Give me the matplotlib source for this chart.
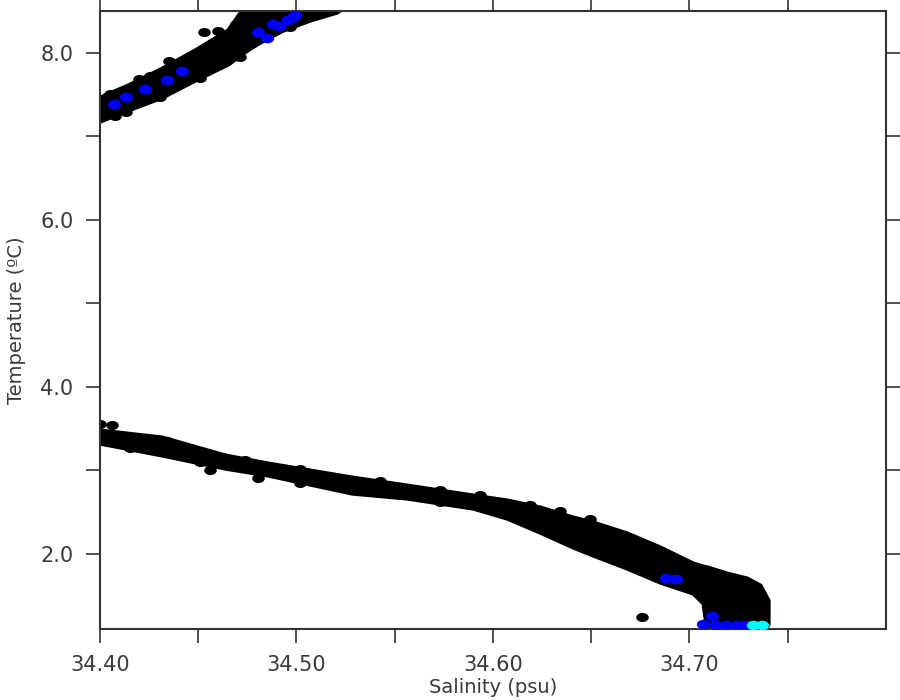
import numpy as np
import matplotlib
matplotlib.use("Agg")
import matplotlib.pyplot as plt
from matplotlib.path import Path
from matplotlib.transforms import Affine2D

# dense upper (warm) branch: salinity, upper / lower temperature edge
upper_S = [34.4000, 34.4142, 34.4316, 34.4483, 34.4651, 34.4748,
           34.4814, 34.4931, 34.5069, 34.5206, 34.5270]
upper_Ttop = [7.470, 7.613, 7.817, 8.033, 8.272, 8.60,
              8.60, 8.60, 8.60, 8.60, 8.60]
upper_Tbot = [7.183, 7.315, 7.470, 7.673, 7.865, 8.032,
              8.128, 8.272, 8.392, 8.488, 8.60]

# dense lower (deep) branch
lower_S = [34.4000, 34.4316, 34.4636, 34.4855, 34.5282, 34.5562, 34.5898,
           34.6071, 34.6239, 34.6407, 34.6509, 34.6682, 34.6850, 34.7018,
           34.7069, 34.7094, 34.7191, 34.7293, 34.7359, 34.7400]
lower_Ttop = [3.482, 3.398, 3.183, 3.087, 2.919, 2.823, 2.704,
              2.644, 2.560, 2.440, 2.380, 2.249, 2.081, 1.889,
              1.853, 1.840, 1.769, 1.709, 1.625, 1.446]
lower_Tbot = [3.326, 3.183, 3.027, 2.943, 2.728, 2.668, 2.548,
              2.428, 2.260, 2.081, 1.985, 1.829, 1.662, 1.530,
              1.410, 1.000, 1.000, 1.000, 1.000, 1.160]

# black samples on the rough edges of the bands and a few strays
black_S = [34.4529, 34.4601, 34.4692, 34.4351, 34.4198, 34.4132,
           34.4051, 34.4254, 34.4407, 34.4585, 34.4076, 34.4305,
           34.4509, 34.4712, 34.4967,
           34.4061, 34.4000, 34.4341, 34.4560, 34.4626, 34.4804,
           34.4127, 34.4254, 34.4458, 34.4738, 34.5018, 34.5425,
           34.5730, 34.5934, 34.6188, 34.6341, 34.6494,
           34.4153, 34.4509, 34.5018, 34.5730,
           34.6758]
black_T = [8.249, 8.260, 8.344, 7.901, 7.686, 7.290,
           7.510, 7.720, 7.870, 8.080, 7.240, 7.470,
           7.700, 7.950, 8.310,
           3.542, 3.554, 3.350, 3.003, 3.159, 2.907,
           3.410, 3.370, 3.270, 3.125, 3.020, 2.875,
           2.770, 2.700, 2.590, 2.515, 2.420,
           3.270, 3.095, 2.845, 2.615,
           1.243]

# blue samples
blue_S = [34.4071, 34.4132, 34.4229, 34.4341, 34.4417,
          34.4804, 34.4850, 34.4880, 34.4911, 34.4957, 34.4982, 34.4992,
          34.6880, 34.6931,
          34.7069, 34.7115, 34.7135, 34.7186, 34.7237, 34.7282]
blue_T = [7.386, 7.470, 7.566, 7.674, 7.781,
          8.249, 8.177, 8.344, 8.320, 8.392, 8.428, 8.452,
          1.710, 1.698,
          1.160, 1.255, 1.150, 1.150, 1.150, 1.150]

# cyan samples
cyan_S = [34.7323, 34.7369]
cyan_T = [1.150, 1.150]

x_major = [34.40, 34.50, 34.60, 34.70]
x_minor = [34.45, 34.55, 34.65, 34.75]
y_major = [2.0, 4.0, 6.0, 8.0]
y_minor = [3.0, 5.0, 7.0]

# dots in the original are slightly flattened
dot = Path.unit_circle().transformed(Affine2D().scale(1.0, 0.72))

fig = plt.figure(figsize=(9, 7), dpi=100)
ax = fig.add_axes([0.111, 0.1014, 0.8734, 0.8829])

ax.fill_between(upper_S, upper_Tbot, upper_Ttop, color='black',
                edgecolor='black', linewidth=3)
ax.fill_between(lower_S, lower_Tbot, lower_Ttop, color='black',
                edgecolor='black', linewidth=3)
ax.scatter(black_S, black_T, s=82, marker=dot, color='black', linewidths=0)
ax.scatter(blue_S, blue_T, s=92, marker=dot, color='#0000ff', linewidths=0, zorder=3)
ax.scatter(cyan_S, cyan_T, s=92, marker=dot, color='#00ffff', linewidths=0, zorder=3)

ax.set_xlim(34.40, 34.80)
ax.set_ylim(1.1, 8.5)
ax.set_xticks(x_major)
ax.set_xticks(x_minor, minor=True)
ax.set_yticks(y_major)
ax.set_yticks(y_minor, minor=True)
ax.set_xticklabels(['%.2f' % v for v in x_major])
ax.set_yticklabels(['%.1f' % v for v in y_major])

for sp in ax.spines.values():
    sp.set_linewidth(1.5)
    sp.set_color('#333333')
ax.tick_params(which='both', direction='out', length=10, width=1.2,
               color='#333333', top=True, right=True,
               labelsize=15, labelcolor='#3a3a3a', pad=9)

ax.set_xlabel('Salinity (psu)', fontsize=14, color='#3a3a3a', labelpad=2)
ax.set_ylabel('Temperature (ºC)', fontsize=14, color='#3a3a3a', labelpad=10)

fig.savefig('out.png', dpi=100)
